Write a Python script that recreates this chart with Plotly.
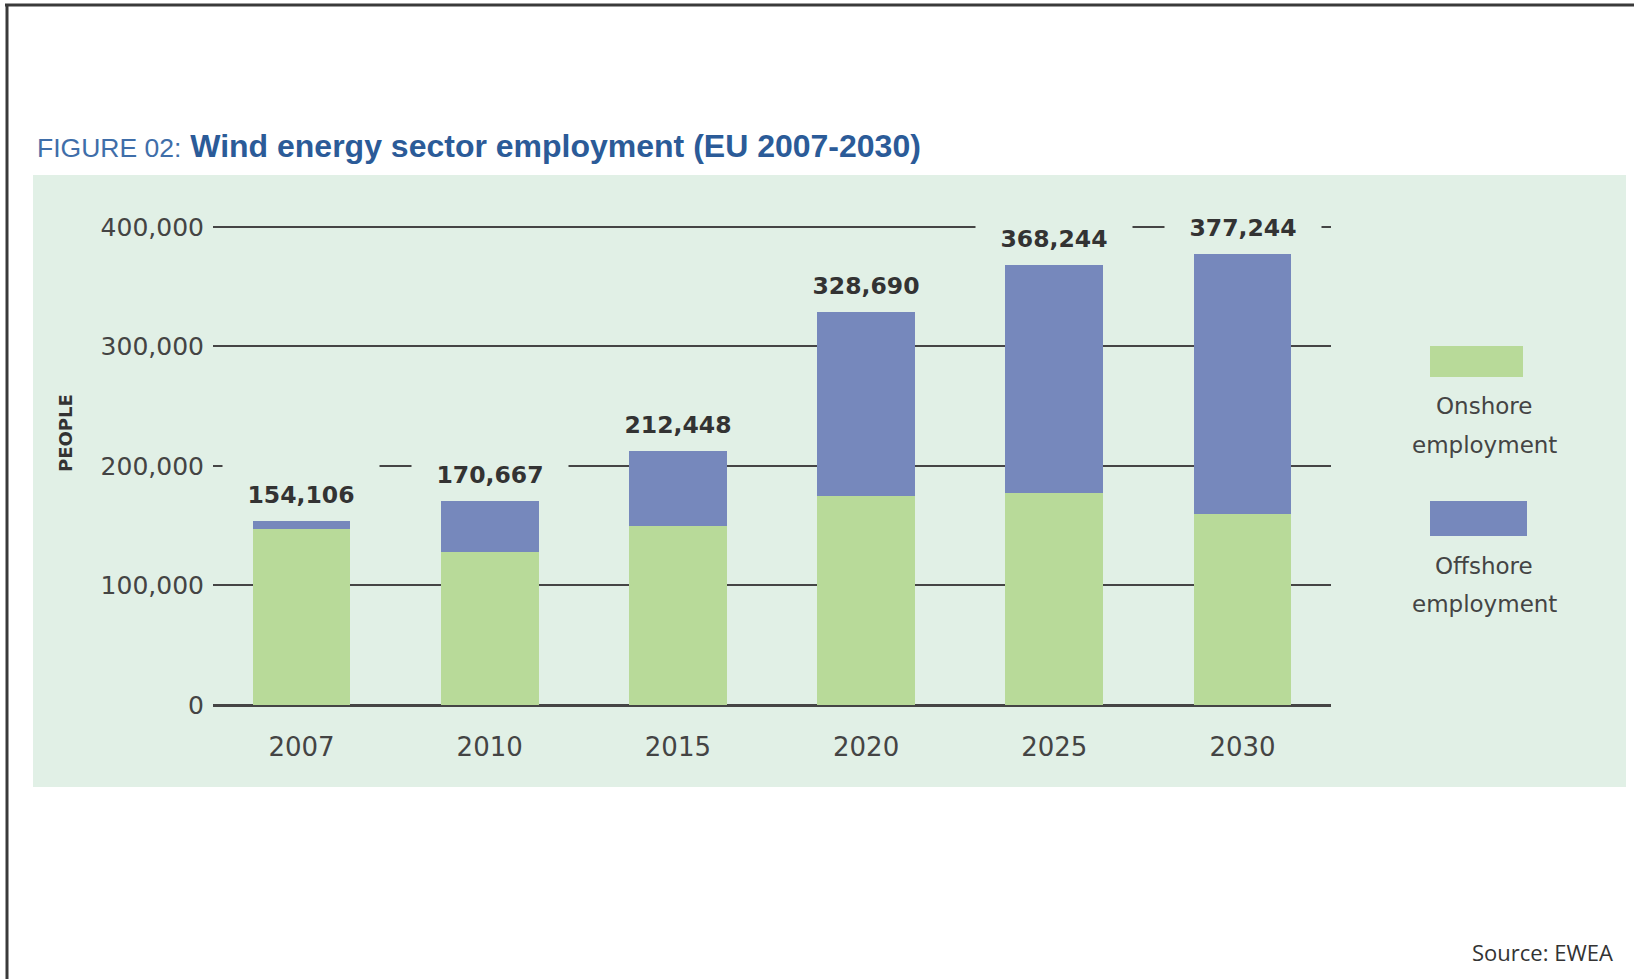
import plotly.graph_objects as go

years = ["2007", "2010", "2015", "2020", "2025", "2030"]
onshore = [147300, 128000, 150000, 175000, 177400, 160100]
offshore = [6806, 42667, 62448, 153690, 190844, 217144]
totals = [154106, 170667, 212448, 328690, 368244, 377244]
total_labels = ["154,106", "170,667", "212,448", "328,690", "368,244", "377,244"]
y_ticks = [0, 100000, 200000, 300000, 400000]
y_ticktext = ["0", "100,000", "200,000", "300,000", "400,000"]

W, H = 1634, 979
L, R, T, B = 213, 1331, 225, 705
PW, PH = R - L, B - T

def px(x):
    return (x - L) / PW

def py(y):
    return (B - y) / PH

GREEN = "#b8da99"
BLUE = "#7688bc"
PANEL = "#e1f0e6"
GRID = "#454545"

fig = go.Figure()
fig.add_trace(go.Bar(x=years, y=onshore, name="Onshore employment",
                     marker=dict(color=GREEN, line=dict(width=0)), width=0.52))
fig.add_trace(go.Bar(x=years, y=offshore, name="Offshore employment",
                     marker=dict(color=BLUE, line=dict(width=0)), width=0.52))

annotations = []
for i, (tot, lab) in enumerate(zip(totals, total_labels)):
    annotations.append(dict(
        x=i, y=tot, xref="x", yref="y", text="<b>" + lab + "</b>", showarrow=False,
        yanchor="bottom", valign="bottom", yshift=11, width=156, height=56,
        bgcolor=PANEL, borderpad=0,
        font=dict(family="DejaVu Sans", size=23.5, color="#333333")))

# title
annotations.append(dict(
    x=px(35), y=py(146), xref="paper", yref="paper", xanchor="left", yanchor="middle",
    showarrow=False, align="left",
    text="<span style='font-size:26.5px;color:#3f6ea9'>FIGURE 02:</span> "
         "<b>Wind energy sector employment (EU 2007-2030)</b>",
    font=dict(family="Liberation Sans", size=32, color="#2b5b98")))

# y axis title
annotations.append(dict(
    x=px(65), y=py(433), xref="paper", yref="paper", xanchor="center", yanchor="middle",
    showarrow=False, text="<b>PEOPLE</b>", textangle=-90,
    font=dict(family="DejaVu Sans", size=18, color="#333333")))

# legend text
for txt, ycen in [("Onshore", 406), ("employment", 445), ("Offshore", 566), ("employment", 604)]:
    annotations.append(dict(
        x=px(1484), y=py(ycen), xref="paper", yref="paper", xanchor="center", yanchor="middle",
        showarrow=False, text=txt,
        font=dict(family="DejaVu Sans", size=23, color="#444444")))

# source
annotations.append(dict(
    x=px(1615), y=py(952), xref="paper", yref="paper", xanchor="right", yanchor="middle",
    showarrow=False, text="Source: EWEA",
    font=dict(family="Open Sans", size=22, color="#333333")))

shapes = [
    dict(type="rect", xref="paper", yref="paper", x0=px(33), x1=px(1626), y0=py(175), y1=py(787),
         fillcolor=PANEL, line=dict(width=0), layer="below"),
    dict(type="rect", xref="paper", yref="paper", x0=px(1430), x1=px(1523), y0=py(346), y1=py(377),
         fillcolor=GREEN, line=dict(width=0)),
    dict(type="rect", xref="paper", yref="paper", x0=px(1430), x1=px(1527), y0=py(501), y1=py(536),
         fillcolor=BLUE, line=dict(width=0)),
    dict(type="line", xref="paper", yref="paper", x0=px(5), x1=px(1634), y0=py(5), y1=py(5),
         line=dict(color="#3a3a3a", width=3)),
    dict(type="line", xref="paper", yref="paper", x0=px(7), x1=px(7), y0=py(5), y1=py(979),
         line=dict(color="#3a3a3a", width=3)),
]

fig.update_layout(
    width=W, height=H, barmode="stack", showlegend=False,
    margin=dict(l=L, r=W - R, t=T, b=H - B, pad=0),
    paper_bgcolor="white", plot_bgcolor="rgba(0,0,0,0)",
    annotations=annotations, shapes=shapes,
    xaxis=dict(type="category", range=[-0.47, 5.47], showgrid=False, showline=False,
               zeroline=False, ticks="", ticklabelstandoff=24,
               tickfont=dict(family="DejaVu Sans", size=26, color="#444444")),
    yaxis=dict(range=[0, 401600], tickvals=y_ticks, ticktext=y_ticktext,
               showgrid=True, gridcolor=GRID, gridwidth=2,
               zeroline=True, zerolinecolor=GRID, zerolinewidth=2.5,
               showline=False, ticks="", ticklabelstandoff=8,
               tickfont=dict(family="DejaVu Sans", size=25, color="#444444")),
)

fig.write_html("out.html")
